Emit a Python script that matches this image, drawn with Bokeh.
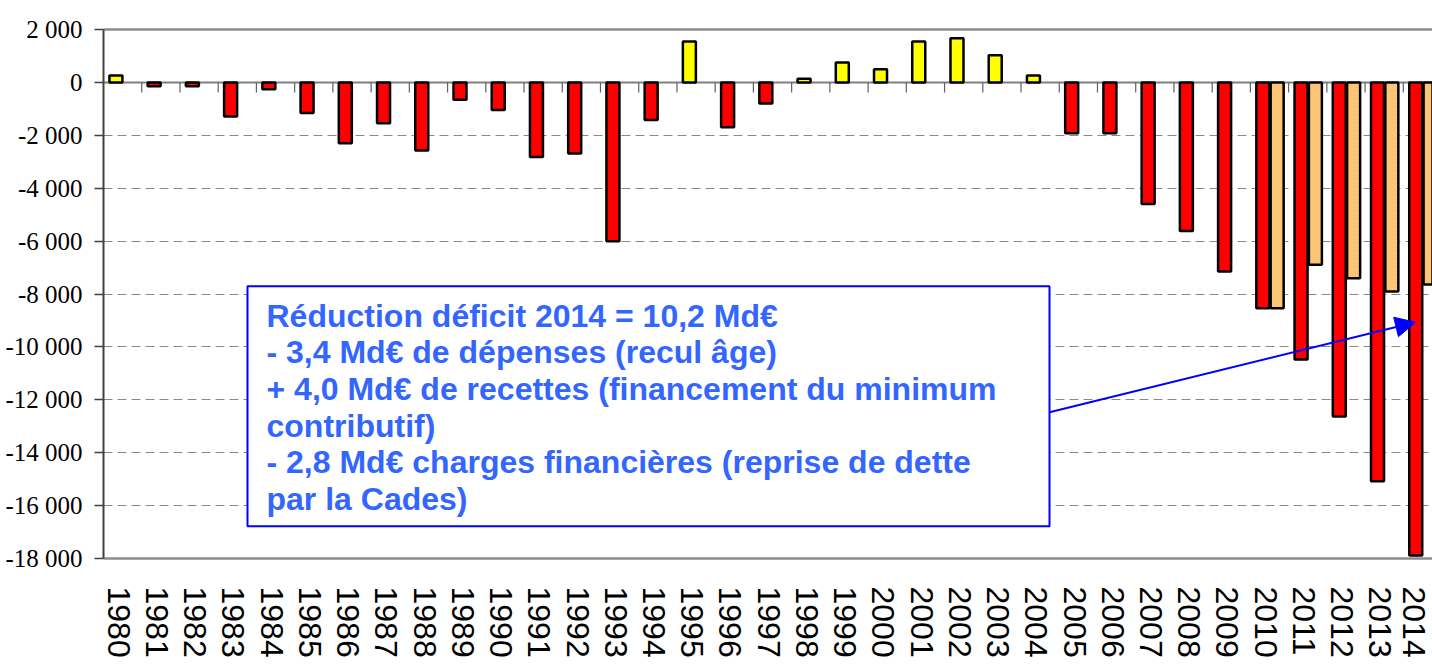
from bokeh.plotting import figure
from bokeh.models import (Range1d, FixedTicker, LinearAxis, Span, BoxAnnotation,
                          Label, Arrow, NormalHead, ColumnDataSource)
from bokeh.embed import file_html
from bokeh.resources import INLINE

# ---------------- data ----------------
years = ["1980", "1981", "1982", "1983", "1984", "1985", "1986", "1987", "1988", "1989",
         "1990", "1991", "1992", "1993", "1994", "1995", "1996", "1997", "1998", "1999",
         "2000", "2001", "2002", "2003", "2004", "2005", "2006", "2007", "2008", "2009",
         "2010", "2011", "2012", "2013", "2014"]
solde = [260, -150, -150, -1290, -260, -1160, -2300, -1540, -2570, -660,
         -1040, -2820, -2690, -6010, -1420, 1550, -1700, -800, 140, 750,
         500, 1550, 1670, 1030, 260, -1920, -1920, -4600, -5620, -7150,
         -8540, -10480, -12630, -15080, -17890]
proj_years = ["2010", "2011", "2012", "2013", "2014"]
proj = [-8540, -6890, -7400, -7910, -7640]
y_ticks = [-18000, -16000, -14000, -12000, -10000, -8000, -6000, -4000, -2000, 0, 2000]
y_tick_labels = ["-18 000", "-16 000", "-14 000", "-12 000", "-10 000", "-8 000",
                 "-6 000", "-4 000", "-2 000", "0", "2 000"]
note_lines = ["Réduction déficit 2014 = 10,2 Md€",
              "- 3,4 Md€ de dépenses (recul âge)",
              "+ 4,0 Md€ de recettes (financement du minimum",
              "contributif)",
              "- 2,8 Md€ charges financières (reprise de dette",
              "par la Cades)"]

# ---------------- layout ----------------
W, H = 1432, 664
LEFT, TOP = 103, 29
FRAME_H = 529
BOTTOM = H - TOP - FRAME_H
CAT_PX = 38.23
frame_w = W - LEFT
x_end = frame_w / CAT_PX
Y0, Y1 = -18000, 2000
PX_PER_UNIT = FRAME_H / (Y1 - Y0)


def xd(px):  # page pixel -> data x
    return (px - LEFT) / CAT_PX


def yd(py):  # page pixel -> data y
    return Y1 - (py - TOP) / PX_PER_UNIT


p = figure(width=W, height=H, x_range=Range1d(0, x_end), y_range=Range1d(Y0, Y1),
           output_backend="svg", toolbar_location=None,
           min_border_left=LEFT, min_border_right=0, min_border_top=TOP,
           min_border_bottom=BOTTOM, outline_line_color=None)
p.background_fill_color = "white"

# y axis
p.yaxis.ticker = FixedTicker(ticks=y_ticks)
p.yaxis.major_label_overrides = {t: l for t, l in zip(y_ticks, y_tick_labels)}
p.yaxis.major_label_text_font = "Liberation Serif"
p.yaxis.major_label_text_font_size = "25px"
p.yaxis.major_label_text_color = "black"
p.yaxis.major_label_standoff = 12
p.yaxis.axis_line_color = "#404040"
p.yaxis.axis_line_width = 2
p.yaxis.major_tick_out = 9
p.yaxis.major_tick_in = 0
p.yaxis.major_tick_line_color = "#404040"
p.yaxis.major_tick_line_width = 1.5
p.yaxis.minor_tick_line_color = None

# x axis (labels near category centres, last one kept inside the page)
centers = [i + 0.5 for i in range(len(years))]
label_pos = [min(c - 0.1, x_end - 19 / CAT_PX) for c in centers]
p.xaxis.ticker = FixedTicker(ticks=label_pos)
p.xaxis.major_label_overrides = {c: y for c, y in zip(label_pos, years)}
p.xaxis.major_label_orientation = "vertical"
p.xaxis.major_label_text_font = "Liberation Sans"
p.xaxis.major_label_text_font_size = "32px"
p.xaxis.major_label_text_color = "black"
p.xaxis.major_label_standoff = 28
p.xaxis.major_tick_out = 0
p.xaxis.major_tick_in = 0
p.xaxis.minor_tick_line_color = None
p.xaxis.axis_line_color = "#8c8c8c"
p.xaxis.axis_line_width = 2.5

top_axis = LinearAxis(ticker=FixedTicker(ticks=[]), axis_line_color="#8c8c8c",
                      axis_line_width=2.5, major_tick_out=0, major_tick_in=0,
                      minor_tick_out=0, minor_tick_in=0, major_label_text_font_size="0px")
p.add_layout(top_axis, "above")

# grid
p.xgrid.visible = False
p.ygrid.grid_line_color = "#8a8a8a"
p.ygrid.grid_line_dash = "9 5"
p.ygrid.grid_line_width = 1

# zero line and category boundary ticks
p.add_layout(Span(location=0, dimension="width", line_color="#808080", line_width=2,
                  level="underlay"))
bounds = list(range(1, len(years)))
tick_len = 10 / PX_PER_UNIT
p.segment(x0=bounds, y0=[0] * len(bounds), x1=bounds, y1=[-tick_len] * len(bounds),
          line_color="#606060", line_width=1.2)

# bars
OFF1, OFF2, BW = -0.175, 0.2, 0.34
src1 = ColumnDataSource(dict(
    x=[c + OFF1 for c in centers], top=solde,
    color=["#FFFF00" if v > 0 else "#FF0000" for v in solde]))
p.vbar(x="x", top="top", bottom=0, width=BW, source=src1, fill_color="color",
       line_color="black", line_width=2.5)

src2 = ColumnDataSource(dict(
    x=[years.index(y) + 0.5 + OFF2 for y in proj_years], top=proj))
p.vbar(x="x", top="top", bottom=0, width=BW, source=src2, fill_color="#FFCC80",
       hatch_pattern="/", hatch_color="#F0A848", hatch_alpha=0.5, hatch_scale=4,
       hatch_weight=0.8, line_color="black", line_width=2.5)

# annotation box
p.add_layout(BoxAnnotation(left=xd(247), right=xd(1049), top=yd(285.7), bottom=yd(525.7),
                           fill_color="white", fill_alpha=1.0, line_color="#0000FF",
                           line_alpha=1.0, line_width=2))
for k, line in enumerate(note_lines):
    p.add_layout(Label(x=xd(266), y=yd(315 + 36.7 * k), text=line,
                       text_baseline="middle", text_align="left",
                       text_font="Liberation Sans", text_font_style="bold",
                       text_font_size="32px", text_color="#3366FF"))

p.add_layout(Arrow(x_start=xd(1049), y_start=yd(411.7), x_end=xd(1415), y_end=yd(321.7),
                   line_color="#0000FF", line_width=2,
                   end=NormalHead(size=20, fill_color="#0000FF", line_color="#0000FF")))

open("out.html", "w").write(file_html(p, INLINE))
